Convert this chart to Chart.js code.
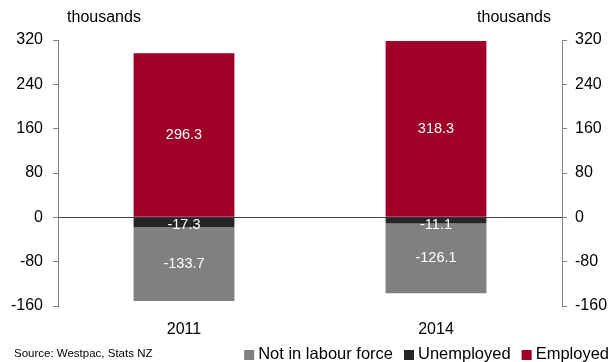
<!DOCTYPE html>
<html>
<head>
<meta charset="utf-8">
<script src="https://cdn.jsdelivr.net/npm/chart.js@4"></script>
<style>
  body { margin: 0; background: #fff; }
  #wrap { width: 611px; height: 362px; }
</style>
</head>
<body>
<div id="wrap"><canvas id="chart" width="611" height="362"></canvas></div>
<script>
const years = ["2011", "2014"];
const employed = [296.3, 318.3];
const unemployed = [-17.3, -11.1];
const notInLabour = [-133.7, -126.1];
const yTicks = [-160, -80, 0, 80, 160, 240, 320];

const FONT = "'Liberation Sans', Arial, sans-serif";
const RED = "#a00028";
const DARK = "#262626";
const GREY = "#808080";

// white value text in the middle of every segment
const segmentLabels = {
  id: "segmentLabels",
  afterDatasetsDraw(chart) {
    const ctx = chart.ctx;
    ctx.save();
    ctx.fillStyle = "#fff";
    ctx.font = "14.5px " + FONT;
    ctx.textAlign = "center";
    ctx.textBaseline = "middle";
    chart.data.datasets.forEach((ds, i) => {
      chart.getDatasetMeta(i).data.forEach((bar, j) => {
        let y = (bar.y + bar.base) / 2;
        if (Math.abs(bar.y - bar.base) < 14) y = Math.min(bar.y, bar.base) + 7;
        ctx.fillText(ds.data[j].toFixed(1), bar.x, y);
      });
    });
    ctx.restore();
  }
};

// unit captions, source note and the legend row
const extras = {
  id: "extras",
  afterDraw(chart) {
    const ctx = chart.ctx;
    ctx.save();
    ctx.fillStyle = "#000";
    ctx.font = "16px " + FONT;
    ctx.textAlign = "center";
    ctx.textBaseline = "middle";
    ctx.fillText("thousands", 104, 18);
    ctx.fillText("thousands", 514, 18);

    ctx.font = "11.5px " + FONT;
    ctx.textAlign = "left";
    ctx.fillText("Source: Westpac, Stats NZ", 14, 354);

    // legend, right aligned, reversed dataset order
    ctx.font = "16.5px " + FONT;
    const items = chart.data.datasets.slice().reverse();
    const widths = items.map((d) => ctx.measureText(d.label).width);
    const total = widths.reduce((a, w) => a + w + 14, 0) + 11 * (items.length - 1);
    let x = 609 - total;
    items.forEach((d, k) => {
      ctx.fillStyle = d.backgroundColor;
      ctx.fillRect(x, 350, 10, 10);
      ctx.fillStyle = "#000";
      ctx.fillText(d.label, x + 14, 354);
      x += 14 + widths[k] + 11;
    });
    ctx.restore();
  }
};

new Chart(document.getElementById("chart"), {
  type: "bar",
  data: {
    labels: years,
    datasets: [
      { label: "Employed", data: employed, backgroundColor: RED },
      { label: "Unemployed", data: unemployed, backgroundColor: DARK },
      { label: "Not in labour force", data: notInLabour, backgroundColor: GREY }
    ]
  },
  options: {
    responsive: false,
    animation: false,
    layout: { padding: { top: 40, left: 0, right: 0, bottom: 16 } },
    datasets: { bar: { barPercentage: 1, categoryPercentage: 0.4 } },
    plugins: {
      legend: { display: false },
      tooltip: { enabled: false }
    },
    scales: {
      x: {
        stacked: true,
        border: { display: false },
        grid: { display: false },
        afterFit: (s) => { s.height = 40; },
        ticks: { color: "#000", font: { family: FONT, size: 16 }, padding: 6 }
      },
      y: {
        stacked: true,
        min: -160,
        max: 320,
        afterBuildTicks: (s) => { s.ticks = yTicks.map((v) => ({ value: v })); },
        afterFit: (s) => { s.width = 58; },
        border: { display: true, color: GREY },
        grid: {
          color: (c) => (c.tick && c.tick.value === 0 ? "#404040" : "rgba(0,0,0,0)"),
          tickColor: GREY,
          tickLength: 5
        },
        ticks: { color: "#000", font: { family: FONT, size: 16 }, padding: 10 }
      },
      y2: {
        position: "right",
        min: -160,
        max: 320,
        afterBuildTicks: (s) => { s.ticks = yTicks.map((v) => ({ value: v })); },
        afterFit: (s) => { s.width = 49; },
        border: { display: true, color: GREY },
        grid: { drawOnChartArea: false, tickColor: GREY, tickLength: 5 },
        ticks: { color: "#000", font: { family: FONT, size: 16 }, padding: 8 }
      }
    }
  },
  plugins: [segmentLabels, extras]
});
</script>
</body>
</html>
